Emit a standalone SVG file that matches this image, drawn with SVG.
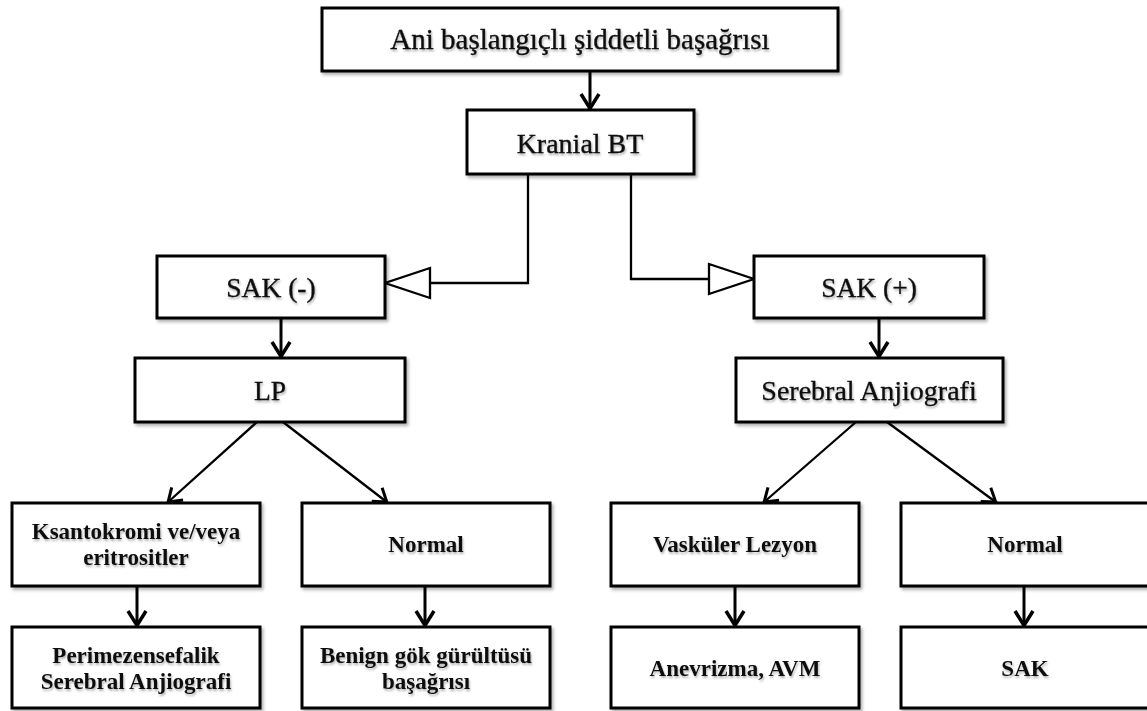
<svg xmlns="http://www.w3.org/2000/svg" width="1147" height="711" viewBox="0 0 1147 711">
  <style>
    .box { fill: #ffffff; stroke: #000000; stroke-width: 3; filter: url(#bshadow); }
    .t { font-family: "Liberation Serif", "Times New Roman", serif; font-size: 27.5px; text-anchor: middle; fill: #111111; stroke: #111111; stroke-width: 0.35; filter: url(#tshadow); }
    .tb { font-family: "Liberation Serif", "Times New Roman", serif; font-size: 23px; font-weight: bold; text-anchor: middle; fill: #111111; filter: url(#tshadow); }
    .arr { fill: none; stroke: #000000; stroke-width: 3; marker-end: url(#chev); }
    .diag { fill: none; stroke: #000000; stroke-width: 2.3; marker-end: url(#chev2); }
    .elbow { fill: none; stroke: #000000; stroke-width: 2.3; marker-end: url(#tri); }
  </style>
  <defs>
    <filter id="bshadow" x="-5%" y="-10%" width="115%" height="130%">
      <feDropShadow dx="2" dy="2.5" stdDeviation="1.5" flood-color="#000" flood-opacity="0.3"/>
    </filter>
    <filter id="tshadow" x="-5%" y="-20%" width="115%" height="150%">
      <feDropShadow dx="1" dy="2" stdDeviation="1.2" flood-color="#000" flood-opacity="0.3"/>
    </filter>
    <marker id="chev" markerUnits="userSpaceOnUse" markerWidth="30" markerHeight="30" viewBox="-22 -15 30 30" refX="0" refY="0" orient="auto" overflow="visible">
      <path d="M-16,-9 L-1.5,0 L-16,9" fill="none" stroke="#000" stroke-width="3.5"/>
    </marker>
    <marker id="chev2" markerUnits="userSpaceOnUse" markerWidth="30" markerHeight="30" viewBox="-22 -15 30 30" refX="0" refY="0" orient="auto" overflow="visible">
      <path d="M-14,-8.5 L-1.5,0 L-14,8.5" fill="none" stroke="#000" stroke-width="3"/>
    </marker>
    <marker id="tri" markerUnits="userSpaceOnUse" markerWidth="52" markerHeight="36" viewBox="-48 -18 52 36" refX="0" refY="0" orient="auto" overflow="visible">
      <path d="M-45,-15 L0,0 L-45,15 Z" fill="#fff" stroke="#000" stroke-width="2.3"/>
    </marker>
  </defs>

  <g id="connectors">
    <path class="arr" d="M590,71 V110"/>
    <path class="elbow" d="M528,174 V283 H385"/>
    <path class="elbow" d="M631,174 V279 H754"/>
    <path class="arr" d="M281,318 V358"/>
    <path class="arr" d="M879,318 V358"/>
    <path class="diag" d="M257,422 L167,503"/>
    <path class="diag" d="M283,422 L388,503"/>
    <path class="diag" d="M856,422 L763,503"/>
    <path class="diag" d="M887,422 L997,503"/>
    <path class="arr" d="M137,586 V627"/>
    <path class="arr" d="M425,586 V627"/>
    <path class="arr" d="M735,586 V627"/>
    <path class="arr" d="M1024,586 V627"/>
  </g>

  <g id="n-headache">
    <rect class="box" x="322" y="8" width="516" height="63"/>
    <text class="t" x="580" y="49" style="font-size:29px">Ani başlangıçlı şiddetli başağrısı</text>
  </g>
  <g id="n-kranial">
    <rect class="box" x="467" y="110" width="227" height="64"/>
    <text class="t" x="580" y="153" style="font-size:28px">Kranial BT</text>
  </g>
  <g id="n-sak-neg">
    <rect class="box" x="157" y="256" width="228" height="62"/>
    <text class="t" x="271" y="297">SAK (-)</text>
  </g>
  <g id="n-sak-pos">
    <rect class="box" x="754" y="256" width="230" height="62"/>
    <text class="t" x="869" y="297">SAK (+)</text>
  </g>
  <g id="n-lp">
    <rect class="box" x="135" y="358" width="270" height="64"/>
    <text class="t" x="270" y="400">LP</text>
  </g>
  <g id="n-anjio">
    <rect class="box" x="736" y="358" width="267" height="64"/>
    <text class="t" x="869" y="400" style="font-size:28px">Serebral Anjiografi</text>
  </g>
  <g id="n-ksanto">
    <rect class="box" x="12" y="503" width="248" height="83"/>
    <text class="tb" x="136" y="539">Ksantokromi ve/veya</text>
    <text class="tb" x="136" y="565">eritrositler</text>
  </g>
  <g id="n-normal-lp">
    <rect class="box" x="302" y="503" width="248" height="83"/>
    <text class="tb" x="426" y="552">Normal</text>
  </g>
  <g id="n-vaskuler">
    <rect class="box" x="611" y="503" width="248" height="83"/>
    <text class="tb" x="735" y="552">Vasküler Lezyon</text>
  </g>
  <g id="n-normal-anjio">
    <rect class="box" x="901" y="503" width="248" height="83"/>
    <text class="tb" x="1025" y="552">Normal</text>
  </g>
  <g id="n-perimez">
    <rect class="box" x="12" y="627" width="248" height="81"/>
    <text class="tb" x="136" y="663">Perimezensefalik</text>
    <text class="tb" x="136" y="689">Serebral Anjiografi</text>
  </g>
  <g id="n-benign">
    <rect class="box" x="302" y="627" width="248" height="81"/>
    <text class="tb" x="426" y="663">Benign gök gürültüsü</text>
    <text class="tb" x="426" y="689">başağrısı</text>
  </g>
  <g id="n-anevrizma">
    <rect class="box" x="611" y="627" width="248" height="81"/>
    <text class="tb" x="735" y="676">Anevrizma, AVM</text>
  </g>
  <g id="n-sak">
    <rect class="box" x="901" y="627" width="248" height="81"/>
    <text class="tb" x="1025" y="676">SAK</text>
  </g>
</svg>
